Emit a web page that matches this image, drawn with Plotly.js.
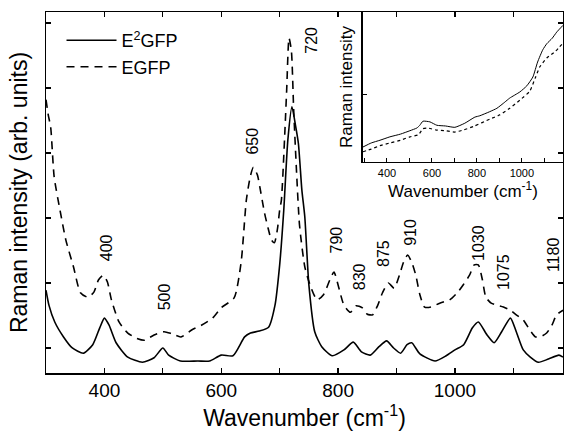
<!DOCTYPE html>
<html>
<head>
<meta charset="utf-8">
<script src="https://cdn.plot.ly/plotly-3.0.1.min.js"></script>
<style>html,body{margin:0;padding:0;background:#fff;}#chart{width:564px;height:433px;}</style>
</head>
<body>
<div id="chart"></div>
<script>
// Main spectra (wavenumber in cm^-1, intensity in arb. units)
const e2gfpX = [300,305,315,330,345,364,380,392,400,408,420,440,465,485,500,510,530,560,580,600,620,640,650,665,681,692,700,707,714,721,727,732,738,743,750,760,772,790,810,826,840,855,870,883,895,907,918,926,940,966,985,1000,1015,1030,1040,1055,1067,1080,1095,1105,1117,1129,1143,1160,1178,1185];
const e2gfpY = [0.89,0.66,0.40,0.17,0.00,-0.08,0.05,0.31,0.46,0.35,0.08,-0.14,-0.22,-0.15,0.00,-0.11,-0.20,-0.20,-0.20,-0.11,-0.12,0.17,0.23,0.26,0.32,0.66,1.28,2.12,3.20,3.71,3.43,3.15,2.43,2.02,0.97,0.25,0.02,-0.12,-0.03,0.09,-0.06,-0.11,0.02,0.11,0.00,-0.08,0.05,0.08,-0.09,-0.20,-0.12,-0.03,0.05,0.31,0.40,0.20,0.08,0.25,0.46,0.25,-0.03,-0.14,-0.22,-0.17,-0.11,-0.14];

const egfpX = [300,304,308,314,324,334,347,359,372,382,390,398,405,412,425,440,455,469,485,502,515,531,550,566,585,600,622,634,643,650,655,662,666,674,680,686,691,696,700,703,709,712,716,720,724,729,734,743,752,764,775,786,793,800,810,821,831,841,850,859,868,876,886,896,905,912,919,926,933,940,948,959,974,991,1005,1014,1025,1033,1040,1047,1053,1062,1071,1083,1095,1105,1117,1128,1138,1148,1157,1166,1174,1185];
const egfpY = [3.82,3.58,3.40,2.63,2.12,1.66,1.25,0.85,0.78,0.86,1.05,1.12,1.02,0.74,0.40,0.23,0.15,0.12,0.20,0.25,0.22,0.17,0.28,0.35,0.46,0.62,0.77,1.32,2.28,2.65,2.78,2.66,2.48,2.08,1.85,1.66,1.62,1.82,2.12,2.28,3.35,3.97,4.77,4.58,3.66,2.69,1.89,1.25,0.97,0.74,0.82,1.05,1.17,0.97,0.66,0.55,0.65,0.62,0.52,0.51,0.66,0.85,1.00,0.92,1.12,1.32,1.43,1.32,1.12,0.82,0.63,0.63,0.69,0.74,0.86,0.97,1.12,1.28,1.28,1.05,0.78,0.69,0.66,0.63,0.58,0.51,0.43,0.28,0.17,0.18,0.23,0.35,0.51,0.58];

// Inset (raw Raman intensity, arb. units)
const insetSolidX = [293,330,369,413,460,502,533,546,560,591,622,660,702,746,791,813,857,889,924,946,991,1022,1049,1070,1093,1111,1135,1155,1183];
const insetSolidY = [0.22,0.28,0.32,0.37,0.41,0.46,0.50,0.54,0.60,0.59,0.54,0.53,0.51,0.57,0.66,0.68,0.74,0.79,0.88,0.94,1.03,1.12,1.25,1.47,1.65,1.74,1.82,1.91,2.01];
const insetDotX = [293,330,369,413,460,502,540,560,580,620,660,700,740,790,857,900,946,991,1035,1060,1080,1111,1150,1183];
const insetDotY = [0.15,0.19,0.24,0.28,0.32,0.37,0.40,0.49,0.50,0.47,0.46,0.44,0.47,0.53,0.63,0.69,0.79,0.91,1.04,1.24,1.40,1.53,1.63,1.75];

// Peak labels
const peakLabels = ['400','500','650','720','790','830','875','910','1030','1075','1180'];
const peakLabelX = [405,502,653,755,797,836,879,924,1040,1084,1168];
const peakLabelY = [1.54,0.78,3.18,4.74,1.66,1.09,1.45,1.78,1.62,1.17,1.43];

const FONT = 'Liberation Sans, Arial, Helvetica, sans-serif';

const traces = [
  {x: e2gfpX, y: e2gfpY, type: 'scatter', mode: 'lines', name: 'E<sup>2</sup>GFP',
   line: {color: '#000', width: 1.6, shape: 'spline', smoothing: 0.6}, xaxis: 'x', yaxis: 'y'},
  {x: egfpX, y: egfpY, type: 'scatter', mode: 'lines', name: 'EGFP',
   line: {color: '#000', width: 1.6, dash: '8px,6px', shape: 'spline', smoothing: 0.6}, xaxis: 'x', yaxis: 'y'},
  {x: insetSolidX, y: insetSolidY, type: 'scatter', mode: 'lines', showlegend: false,
   line: {color: '#000', width: 1, shape: 'spline', smoothing: 0.5}, xaxis: 'x2', yaxis: 'y2'},
  {x: insetDotX, y: insetDotY, type: 'scatter', mode: 'lines', showlegend: false,
   line: {color: '#000', width: 1.2, dash: 'dot', shape: 'spline', smoothing: 0.5}, xaxis: 'x2', yaxis: 'y2'}
];

const annotations = peakLabels.map((t, i) => ({
  text: t, x: peakLabelX[i], y: peakLabelY[i], xref: 'x', yref: 'y',
  showarrow: false, textangle: -90, xanchor: 'center', yanchor: 'middle',
  borderpad: 0,
  font: {family: FONT, size: 16, color: '#000'}
}));

const layout = {
  width: 564, height: 433,
  margin: {l: 46, r: 1, t: 12, b: 60},
  paper_bgcolor: '#fff', plot_bgcolor: 'rgba(0,0,0,0)',
  font: {family: FONT, color: '#000'},
  showlegend: true,
  legend: {x: 0.03, y: 0.972, xanchor: 'left', yanchor: 'top', bgcolor: 'rgba(0,0,0,0)',
           font: {family: FONT, size: 18}, itemwidth: 50, tracegroupgap: 0},
  xaxis: {
    domain: [0, 1], range: [300, 1185], anchor: 'y',
    showline: true, linecolor: '#000', linewidth: 1.5, mirror: 'ticks',
    ticks: 'inside', ticklen: 5, tickwidth: 1.2, tickcolor: '#000',
    tick0: 0, dtick: 200, tickfont: {family: FONT, size: 19},
    minor: {dtick: 100, ticks: 'inside', ticklen: 5, tickwidth: 1.2, tickcolor: '#000', showgrid: false},
    showgrid: false, zeroline: false,
    title: {text: 'Wavenumber (cm<sup>-1</sup>)', font: {family: FONT, size: 23}, standoff: 6}
  },
  yaxis: {
    domain: [0, 1], range: [-0.385, 5.17], anchor: 'x',
    showline: true, linecolor: '#000', linewidth: 1.5, mirror: 'ticks',
    ticks: 'inside', ticklen: 5, tickwidth: 1.2, tickcolor: '#000',
    tickvals: [0, 1, 2, 3, 4, 5], showticklabels: false,
    showgrid: false, zeroline: false,
    title: {text: 'Raman intensity (arb. units)', font: {family: FONT, size: 23}, standoff: 10}
  },
  xaxis2: {
    domain: [0.613, 1], range: [293, 1183], anchor: 'y2',
    showline: true, linecolor: '#000', linewidth: 1.5, mirror: true,
    ticks: 'inside', ticklen: 4, tickwidth: 1, tickcolor: '#000',
    tick0: 0, dtick: 200, tickfont: {family: FONT, size: 11},
    minor: {dtick: 100, ticks: 'inside', ticklen: 4, tickwidth: 1, tickcolor: '#000', showgrid: false},
    showgrid: false, zeroline: false,
    title: {text: 'Wavenumber (cm<sup>-1</sup>)', font: {family: FONT, size: 17}, standoff: 2}
  },
  yaxis2: {
    domain: [0.5845, 1], range: [0, 2.206], anchor: 'x2',
    showline: true, linecolor: '#000', linewidth: 1.5, mirror: true,
    ticks: 'inside', ticklen: 4, tickwidth: 1, tickcolor: '#000',
    tickvals: [1], showticklabels: false,
    showgrid: false, zeroline: false,
    title: {text: 'Raman intensity', font: {family: FONT, size: 17}, standoff: 4}
  },
  annotations: annotations
};

Plotly.newPlot('chart', traces, layout, {displayModeBar: false, staticPlot: true});
</script>
</body>
</html>
